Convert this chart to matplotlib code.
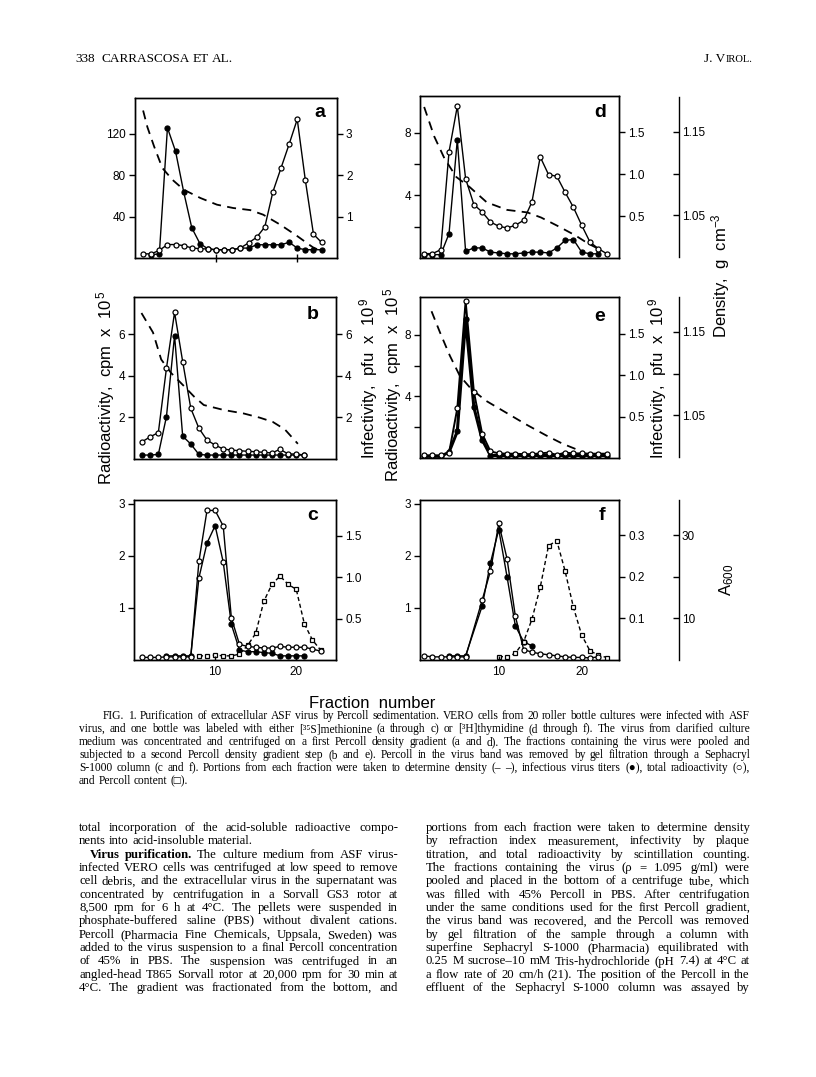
import numpy as np
import matplotlib
matplotlib.use('Agg')
import matplotlib.pyplot as plt

plt.rcParams['font.family'] = ['Liberation Sans', 'DejaVu Sans']
plt.rcParams['mathtext.fontset'] = 'custom'
plt.rcParams['mathtext.rm'] = 'Liberation Sans'
plt.rcParams['mathtext.it'] = 'Liberation Sans:italic'
plt.rcParams['mathtext.bf'] = 'Liberation Sans:bold'

nan = np.nan

# ---- data ----
frac = np.arange(1, 24)
frac_b = np.arange(1, 22)

# panel a (first gradient, 35S)
a_rad = [4, 4, 7.4, 13, 13, 12, 9.7, 9, 8.7, 8, 8, 8, 9.7, 14.6, 20, 30, 64, 87, 110, 134, 75, 23, 15]
a_inf = [nan, 0.08, 0.1, 3.15, 2.58, 1.6, 0.73, 0.35, 0.22, 0.2, 0.2, 0.2, 0.24, 0.24, 0.32, 0.32, 0.32,
         0.32, 0.38, 0.24, 0.2, 0.2, 0.2]
a_dens_x = [1.0, 1.53, 2.35, 3.37, 4.6, 6.0, 8.06, 10.1, 12.1, 14.2, 15.8, 17.9, 19.9, 21.9, 22.8]
a_dens = [1.177, 1.157, 1.134, 1.108, 1.094, 1.082, 1.072, 1.064, 1.060, 1.0575, 1.052, 1.040, 1.027, 1.013, 1.009]

# panel b (second gradient, 35S)
b_rad = [0.83, 1.07, 1.27, 4.37, 7.06, 4.69, 2.44, 1.48, 0.91, 0.67, 0.48, 0.43, 0.4, 0.37, 0.35, 0.32,
         0.29, 0.47, 0.24, 0.24, 0.19]
b_inf = [0.19, 0.19, 0.22, 2.04, 5.94, 1.1, 0.72, 0.22, 0.19, 0.19, 0.19, 0.19, 0.19, 0.19, 0.19, 0.19,
         0.19, 0.19, 0.19, 0.19, 0.19]
b_dens_x = [0.92, 2.34, 3.35, 4.57, 6.2, 7.4, 8.6, 11.1, 13.5, 15.5, 17.1, 18.6, 20.2]
b_dens = [1.173, 1.150, 1.118, 1.102, 1.086, 1.074, 1.064, 1.058, 1.054, 1.049, 1.044, 1.035, 1.018]

# panel c (Sephacryl, 35S)
c_rad = [0.05, 0.05, 0.05, 0.06, 0.06, 0.06, 0.06, 1.89, 2.87, 2.87, 2.57, 0.81, 0.3, 0.26, 0.245, 0.23,
         0.23, 0.26, 0.245, 0.245, 0.245, 0.21, 0.17]
c_inf = [nan, nan, nan, 0.05, 0.05, 0.05, 0.05, 0.99, 1.41, 1.62, 1.18, 0.43, 0.12, 0.1, 0.1, 0.09, 0.08,
         0.05, 0.05, 0.05, 0.05, nan, nan]
c_inf_open = [8, 11]
c_perc = [nan, nan, nan, nan, nan, nan, nan, 1.0, 1.0, 1.2, 1.0, 1.0, 1.4, 3.5, 6.4, 14.1, 18.2, 20.2,
          18.2, 17.0, 8.7, 4.8, 2.4]

# panel d (first gradient, 3H)
d_rad = [0.28, 0.28, 0.53, 6.78, 9.7, 5.07, 3.41, 2.94, 2.3, 2.03, 1.92, 2.09, 2.41, 3.58, 6.46, 5.33,
         5.22, 4.2, 3.24, 2.09, 1.02, 0.6, 0.28]
d_inf = [0.04, 0.04, 0.04, 0.29, 1.41, 0.08, 0.12, 0.12, 0.07, 0.06, 0.05, 0.05, 0.06, 0.07, 0.07, 0.06,
         0.12, 0.21, 0.22, 0.07, 0.05, 0.05, nan]
d_dens_x = [1.0, 2.22, 3.45, 4.88, 6.5, 8.55, 11.0, 13.45, 15.1, 17.1, 19.2, 20.8, 22.0]
d_dens = [1.179, 1.144, 1.118, 1.096, 1.084, 1.066, 1.057, 1.054, 1.048, 1.038, 1.027, 1.017, 1.011]

# panel e (second gradient, 3H)
e_rad = [0.17, 0.17, 0.17, 0.32, 3.23, 10.2, 4.3, 1.57, 0.43, 0.3, 0.28, 0.28, 0.25, 0.25, 0.3, 0.35,
         0.2, 0.35, 0.3, 0.3, 0.28, 0.28, 0.28]
e_inf = [0.02, 0.02, 0.02, 0.07, 0.32, 1.67, 0.61, 0.22, 0.03, 0.03, 0.03, 0.03, 0.03, 0.03, 0.03, 0.03,
         0.03, 0.03, 0.03, 0.03, 0.03, 0.03, 0.03]
e_dens_x = [1.89, 2.9, 4.1, 5.3, 6.7, 8.5, 10.9, 13.3, 15.7, 17.7, 19.7]
e_dens = [1.175, 1.150, 1.122, 1.098, 1.082, 1.068, 1.054, 1.040, 1.027, 1.017, 1.009]

# panel f (Sephacryl, 3H)
f_rad = [0.08, 0.06, 0.06, 0.06, 0.06, 0.06, nan, 1.15, 1.71, 2.62, 1.94, 0.84, 0.2, 0.15, 0.12, 0.1,
         0.08, 0.06, 0.05, 0.05, 0.04, 0.06, nan]
f_inf = [nan, nan, nan, 0.01, 0.01, 0.01, nan, 0.13, 0.234, 0.314, 0.2, 0.082, 0.044, 0.034, nan, nan,
         nan, nan, nan, nan, nan, nan, nan]
f_perc = [nan, nan, nan, nan, nan, nan, nan, nan, nan, 0.8, 0.8, 1.6, 4.4, 9.8, 17.5, 27.5, 28.7, 21.4,
          12.7, 6.0, 2.2, 1.2, 0.6]

W, H = 816, 1077
fig = plt.figure(figsize=(W / 100, H / 100), dpi=100)


def box(x0, y0, x1, y1):
    return [x0 / W, 1 - y1 / H, (x1 - x0) / W, (y1 - y0) / H]


def panel(rect, xlim, yl, yr, lt, ll, rt, rl):
    ax = fig.add_axes(rect)
    ax.set_xlim(*xlim)
    ax.set_ylim(*yl)
    axr = ax.twinx()
    axr.set_ylim(*yr)
    ax3 = ax.twinx()
    ax3.axis('off')
    ax.set_yticks(lt)
    ax.set_yticklabels(ll)
    axr.set_yticks(rt)
    axr.set_yticklabels(rl)
    for a in (ax, axr):
        a.tick_params(axis='y', direction='out', length=4, width=1, labelsize=8.5, pad=2.5)
        for s in a.spines.values():
            s.set_linewidth(1.0)
    ax.set_xticks([])
    return ax, axr, ax3


def line(a, x, y, marker, fill, ls='-', lw=1.0, ms=3.6):
    x = np.asarray(x, float)
    y = np.asarray(y, float)
    m = ~np.isnan(y)
    a.plot(x[m], y[m], color='k', lw=lw, ls=ls, zorder=2)
    a.plot(x[m], y[m], ls='none', marker=marker, ms=ms, mec='k', mew=0.9,
           mfc='k' if fill else 'white', zorder=3)


def dens(a, x, y):
    a.set_ylim(1.0, 1.192)
    a.plot(x, y, color='k', lw=1.3, ls=(0, (5, 3.5)))


# ---- panels ----
ax, axr, ax3 = panel(box(135, 98, 337, 258), (0, 24.9), (0, 154.6), (0, 3.87),
                     [40, 80, 120], ['40', '80', '120'], [1, 2, 3], ['1', '2', '3'])
ax.set_xticks([10, 20])
ax.set_xticklabels([])
ax.tick_params(axis='x', direction='inout', length=6, width=1)
dens(ax3, a_dens_x, a_dens)
line(axr, frac, a_inf, 'o', True)
line(ax, frac, a_rad, 'o', False)
ax.set_zorder(axr.get_zorder() + 1); ax.patch.set_visible(False)
ax.text(0.916, 0.91, 'a', transform=ax.transAxes, fontsize=14, weight='bold', ha='center', va='center')

ax, axr, ax3 = panel(box(134, 297, 336, 459), (0, 24.9), (0, 7.8), (0, 7.8),
                     [2, 4, 6], ['2', '4', '6'], [2, 4, 6], ['2', '4', '6'])
dens(ax3, b_dens_x, b_dens)
line(axr, frac_b, b_inf, 'o', True)
line(ax, frac_b, b_rad, 'o', False)
ax.set_zorder(axr.get_zorder() + 1); ax.patch.set_visible(False)
ax.text(0.886, 0.89, 'b', transform=ax.transAxes, fontsize=14, weight='bold', ha='center', va='center')

ax, axr, ax3 = panel(box(134, 500, 336, 660), (0, 24.9), (0, 3.07), (0, 1.93),
                     [1, 2, 3], ['1', '2', '3'], [0.5, 1.0, 1.5], ['0.5', '1.0', '1.5'])
ax.set_xticks([10, 20])
ax.tick_params(axis='x', direction='in', length=3, width=1, labelsize=8.5, pad=4)
ax3.set_ylim(0, 38.5)
line(ax3, frac, c_perc, 's', False, ls=(0, (3, 2)), ms=3.4)
ci = np.asarray(c_inf, float)
mi = ~np.isnan(ci)
axr.plot(frac[mi], ci[mi], color='k', lw=1.0)
for fr, v in zip(frac[mi], ci[mi]):
    axr.plot(fr, v, 'o', ms=3.6, mec='k', mew=0.9, mfc='white' if fr in c_inf_open else 'k')
line(ax, frac, c_rad, 'o', False)
ax.set_zorder(axr.get_zorder() + 1); ax.patch.set_visible(False)
ax.text(0.886, 0.906, 'c', transform=ax.transAxes, fontsize=14, weight='bold', ha='center', va='center')

ax, axr, ax3 = panel(box(420, 96, 619, 258), (0.5, 24.5), (0, 10.35), (0, 1.93),
                     [2, 4, 6, 8], ['', '4', '', '8'], [0.5, 1.0, 1.5], ['0.5', '1.0', '1.5'])
dens(ax3, d_dens_x, d_dens)
line(axr, frac, d_inf, 'o', True)
line(ax, frac, d_rad, 'o', False)
ax.set_zorder(axr.get_zorder() + 1); ax.patch.set_visible(False)
ax.text(0.905, 0.9, 'd', transform=ax.transAxes, fontsize=14, weight='bold', ha='center', va='center')

ax, axr, ax3 = panel(box(420, 297, 619, 458), (0.5, 24.5), (0, 10.47), (0, 1.94),
                     [2, 4, 6, 8], ['', '4', '', '8'], [0.5, 1.0, 1.5], ['0.5', '1.0', '1.5'])
dens(ax3, e_dens_x, e_dens)
line(axr, frac, e_inf, 'o', True, lw=2.2)
line(ax, frac, e_rad, 'o', False, lw=1.4)
ax.set_zorder(axr.get_zorder() + 1); ax.patch.set_visible(False)
ax.text(0.905, 0.876, 'e', transform=ax.transAxes, fontsize=14, weight='bold', ha='center', va='center')

ax, axr, ax3 = panel(box(420, 500, 619, 660), (0.5, 24.5), (0, 3.07), (0, 0.385),
                     [1, 2, 3], ['1', '2', '3'], [0.1, 0.2, 0.3], ['0.1', '0.2', '0.3'])
ax.set_xticks([10, 20])
ax.tick_params(axis='x', direction='in', length=3, width=1, labelsize=8.5, pad=4)
ax3.set_ylim(0, 38.5)
line(ax3, frac, f_perc, 's', False, ls=(0, (3, 2)), ms=3.4)
line(axr, frac, f_inf, 'o', True)
line(ax, frac, f_rad, 'o', False)
ax.set_zorder(axr.get_zorder() + 1); ax.patch.set_visible(False)
ax.text(0.913, 0.906, 'f', transform=ax.transAxes, fontsize=14, weight='bold', ha='center', va='center')

# ---- separate density and A600 scales ----
for y0, y1 in [(97, 257), (297, 457)]:
    sa = fig.add_axes(box(659, y0, 679, y1))
    sa.set_ylim(1.0, 1.192)
    sa.patch.set_visible(False)
    for k in ('left', 'top', 'bottom'):
        sa.spines[k].set_visible(False)
    sa.spines['right'].set_linewidth(1.0)
    sa.set_xticks([])
    sa.yaxis.tick_right()
    sa.set_yticks([1.05, 1.10, 1.15])
    sa.set_yticklabels(['1.05', '', '1.15'])
    sa.tick_params(axis='y', direction='in', length=4, width=1, labelsize=8.5, pad=2)

sa = fig.add_axes(box(659, 500, 679, 660))
sa.set_ylim(0, 38.5)
sa.patch.set_visible(False)
for k in ('left', 'top', 'bottom'):
    sa.spines[k].set_visible(False)
sa.spines['right'].set_linewidth(1.0)
sa.set_xticks([])
sa.yaxis.tick_right()
sa.set_yticks([10, 20, 30])
sa.set_yticklabels(['10', '', '30'])
sa.tick_params(axis='y', direction='in', length=4, width=1, labelsize=8.5, pad=2)

# ---- axis titles ----
def vlabel(x, y, s, size=12):
    fig.text(x / W, 1 - y / H, s, rotation=90, ha='center', va='center', fontsize=size)

vlabel(106, 388, r'Radioactivity,  cpm  x  10$^{\,5}$')
vlabel(369, 378, r'Infectivity,  pfu  x  10$^{\,9}$')
vlabel(393, 385, r'Radioactivity,  cpm  x  10$^{\,5}$')
vlabel(658, 378, r'Infectivity,  pfu  x  10$^{\,9}$')
vlabel(721, 276, r'Density,  g  cm$^{-3}$')
vlabel(727, 580, r'A$_{600}$')
fig.text(372 / W, 1 - 703 / H, 'Fraction  number', ha='center', va='center', fontsize=12)

# ---- page text ----
fig.canvas.draw()
rend = fig.canvas.get_renderer()
serif = ['Liberation Serif', 'DejaVu Serif', 'DejaVu Sans']


def text_line(s, x0, x1, y, size, justify=True, nbold=0):
    words = s.split()
    ts = [fig.text(0, 1 - y / H, w, fontsize=size, family=serif, va='baseline',
                   weight='bold' if i < nbold else 'normal') for i, w in enumerate(words)]
    ws = [t.get_window_extent(rend).width for t in ts]
    if justify and len(words) > 1:
        gap = (x1 - x0 - sum(ws)) / (len(words) - 1)
    else:
        gap = size * 100 / 72 * 0.25
    x = x0
    for t, w in zip(ts, ws):
        t.set_x(x / W)
        x += w + gap
    return x


text_line('338', 75, 90, 62, 9.5, justify=False)
text_line('CARRASCOSA ET AL.', 101, 240, 62, 9.5, justify=False)
t1 = fig.text(752 / W, 1 - 62 / H, 'IROL.', fontsize=7.6, family=serif, va='baseline', ha='right')
wv = t1.get_window_extent(rend).width
fig.text((752 - wv) / W, 1 - 62 / H, 'J. V', fontsize=9.5, family=serif, va='baseline', ha='right')

caption = [
    'FIG. 1. Purification of extracellular ASF virus by Percoll sedimentation. VERO cells from 20 roller bottle cultures were infected with ASF',
    'virus, and one bottle was labeled with either [³⁵S]methionine (a through c) or [³H]thymidine (d through f). The virus from clarified culture',
    'medium was concentrated and centrifuged on a first Percoll density gradient (a and d). The fractions containing the virus were pooled and',
    'subjected to a second Percoll density gradient step (b and e). Percoll in the virus band was removed by gel filtration through a Sephacryl',
    'S-1000 column (c and f). Portions from each fraction were taken to determine density (– –), infectious virus titers (●), total radioactivity (○),',
    'and Percoll content (□).',
]
for i, s in enumerate(caption):
    text_line(s, 103 if i == 0 else 79, 750, 719 + i * 13.0, 8.3, justify=i < len(caption) - 1)

left_col = [
    'total incorporation of the acid-soluble radioactive compo-',
    'nents into acid-insoluble material.',
    'Virus purification. The culture medium from ASF virus-',
    'infected VERO cells was centrifuged at low speed to remove',
    'cell debris, and the extracellular virus in the supernatant was',
    'concentrated by centrifugation in a Sorvall GS3 rotor at',
    '8,500 rpm for 6 h at 4°C. The pellets were suspended in',
    'phosphate-buffered saline (PBS) without divalent cations.',
    'Percoll (Pharmacia Fine Chemicals, Uppsala, Sweden) was',
    'added to the virus suspension to a final Percoll concentration',
    'of 45% in PBS. The suspension was centrifuged in an',
    'angled-head T865 Sorvall rotor at 20,000 rpm for 30 min at',
    '4°C. The gradient was fractionated from the bottom, and',
]
right_col = [
    'portions from each fraction were taken to determine density',
    'by refraction index measurement, infectivity by plaque',
    'titration, and total radioactivity by scintillation counting.',
    'The fractions containing the virus (ρ = 1.095 g/ml) were',
    'pooled and placed in the bottom of a centrifuge tube, which',
    'was filled with 45% Percoll in PBS. After centrifugation',
    'under the same conditions used for the first Percoll gradient,',
    'the virus band was recovered, and the Percoll was removed',
    'by gel filtration of the sample through a column with',
    'superfine Sephacryl S-1000 (Pharmacia) equilibrated with',
    '0.25 M sucrose–10 mM Tris-hydrochloride (pH 7.4) at 4°C at',
    'a flow rate of 20 cm/h (21). The position of the Percoll in the',
    'effluent of the Sephacryl S-1000 column was assayed by',
]
for i, s in enumerate(left_col):
    text_line(s, 90 if i == 2 else 79, 398, 831 + i * 13.35, 9.2, justify=i != 1, nbold=2 if i == 2 else 0)
for i, s in enumerate(right_col):
    text_line(s, 426, 750, 831 + i * 13.35, 9.2)

fig.savefig('out.png', dpi=100)
